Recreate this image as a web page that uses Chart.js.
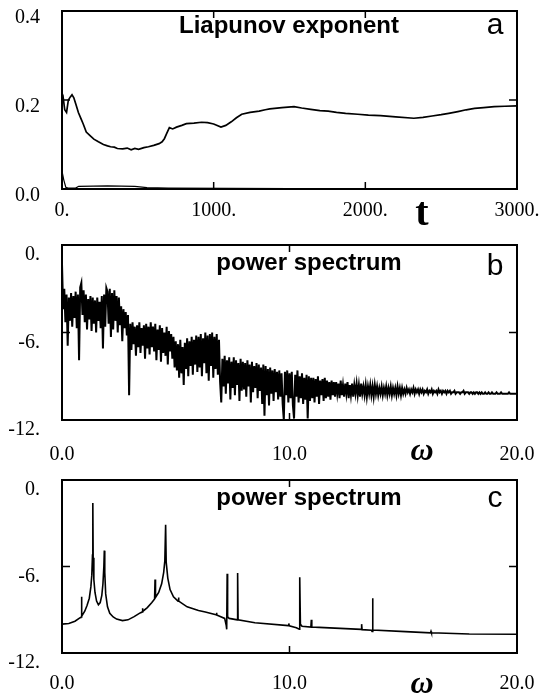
<!DOCTYPE html>
<html>
<head>
<meta charset="utf-8">
<script src="https://cdn.jsdelivr.net/npm/chart.js@4.4.1/dist/chart.umd.min.js"></script>
<style>
  body { margin: 0; background: #fff; }
  canvas { position: absolute; left: 0; }
  #chartA { top: 0; }
  #chartB { top: 232px; }
  #chartC { top: 465px; }
</style>
</head>
<body>
<canvas id="chartA" width="540" height="232"></canvas>
<canvas id="chartB" width="540" height="233"></canvas>
<canvas id="chartC" width="540" height="235"></canvas>
<script>
//datos panel a (exponente de Liapunov)
const tiempoA = [0, 8, 18, 30, 42, 55, 66, 78, 92, 108, 125, 140, 160, 185, 210, 240, 273, 300, 320, 345,
  365, 400, 430, 456, 480, 505, 540, 570, 605, 640, 660, 675, 692, 708, 730, 755, 790, 820, 870, 920,
  960, 1000, 1048, 1080, 1116, 1150, 1185, 1240, 1300, 1340, 1370, 1450, 1530, 1580, 1640, 1700, 1755, 1810, 1870, 1950,
  2020, 2100, 2200, 2320, 2380, 2440, 2500, 2550, 2610, 2665, 2720, 2780, 2850, 2920, 3000];
const liapunovA = [0.195, 0.205, 0.178, 0.172, 0.2, 0.207, 0.212, 0.205, 0.19, 0.172, 0.158, 0.146, 0.128, 0.12, 0.112, 0.106, 0.1, 0.097, 0.095, 0.094,
  0.091, 0.09, 0.092, 0.088, 0.091, 0.089, 0.093, 0.095, 0.098, 0.102, 0.106, 0.113, 0.126, 0.138, 0.135, 0.139, 0.143, 0.147, 0.148, 0.15,
  0.149, 0.146, 0.139, 0.143, 0.151, 0.16, 0.168, 0.172, 0.175, 0.178, 0.18, 0.183, 0.185, 0.182, 0.179, 0.176, 0.175, 0.172, 0.17, 0.168,
  0.166, 0.165, 0.162, 0.159, 0.161, 0.164, 0.167, 0.17, 0.174, 0.178, 0.181, 0.183, 0.185, 0.186, 0.187];
const tiempoA2 = [0, 12, 25, 40, 90, 110, 300, 480, 560, 700, 1500, 3000];
const liapunovA2 = [0.04, 0.02, 0.004, 0.002, 0.002, 0.006, 0.007, 0.006, 0.003, 0.002, 0.001, 0.001];
const ticksXA = [0, 1000, 2000, 3000];
const etiquetasXA = ['0.', '1000.', '2000.', '3000.'];
const ticksYA = [0, 0.2, 0.4];
const etiquetasYA = ['0.0', '0.2', '0.4'];

//datos panel b (espectro, paso 0.05 en omega)
const pasoB = 0.05;
const potenciaB = [
  -1.3, -4.4, -3.0, -5.3, -3.4, -6.9, -3.6, -5.2, -3.3, -5.6, -3.5, -5.0, -3.2, -5.7, -3.4, -7.9, -2.9, -2.6, -4.8, -3.1,
  -5.3, -3.4, -5.8, -3.7, -5.1, -3.5, -5.9, -3.6, -5.4, -3.8, -6.0, -3.6, -5.2, -3.9, -5.7, -3.5, -7.1, -3.4, -5.6, -2.95,
  -3.2, -5.4, -3.0, -6.3, -3.3, -5.8, -3.1, -5.2, -3.5, -6.0, -3.6, -5.5, -4.2, -6.6, -4.4, -5.7, -4.6, -6.2, -4.8, -10.3,
  -5.4, -7.2, -5.3, -6.8, -5.6, -7.6, -5.5, -7.0, -5.3, -7.4, -5.7, -6.9, -5.5, -7.8, -5.4, -7.1, -5.6, -7.5, -5.3, -7.0,
  -5.6, -7.3, -5.4, -7.9, -5.8, -7.2, -5.5, -8.0, -5.7, -7.4, -6.0, -7.6, -5.6, -8.2, -5.9, -7.3, -6.1, -7.8, -6.3, -8.4,
  -6.6, -8.6, -6.8, -9.1, -6.5, -8.8, -7.0, -9.6, -6.7, -8.5, -6.4, -9.0, -6.6, -8.3, -6.3, -8.9, -6.5, -8.2, -6.2, -8.7,
  -6.3, -8.4, -6.1, -9.0, -6.4, -8.1, -6.0, -8.8, -6.2, -9.3, -6.1, -8.3, -6.0, -9.1, -6.3, -8.5, -6.1, -8.9, -6.5, -9.4,
  -10.8, -7.8, -9.7, -7.6, -10.2, -7.9, -9.5, -7.7, -10.6, -8.0, -9.8, -7.7, -10.3, -7.9, -9.6, -8.1, -10.7, -7.8, -10.0, -8.0,
  -9.9, -8.1, -10.4, -7.9, -9.7, -8.2, -10.8, -8.0, -10.1, -8.3, -9.8, -8.1, -10.5, -8.2, -10.0, -8.4, -10.9, -8.2, -11.7, -8.3,
  -10.3, -8.5, -11.0, -8.4, -10.2, -8.6, -10.7, -8.5, -10.1, -8.7, -10.6, -8.6, -10.4, -8.8, -10.9, -12.0, -8.7, -10.3, -8.6, -10.8,
  -8.8, -10.5, -8.7, -11.0, -11.9, -8.9, -10.4, -8.6, -10.8, -9.0, -10.5, -8.8, -10.9, -9.1, -10.6, -8.9, -11.9, -9.0, -10.7, -9.1,
  -10.5, -9.1, -10.8, -9.2, -10.4, -9.0, -10.9, -9.3, -10.3, -9.2, -10.7, -9.1, -10.5, -9.3, -10.4, -9.4, -10.6, -9.3, -10.3, -9.4,
  -10.4, -9.4, -10.2, -9.5, -10.5, -9.3, -10.3, -9.6, -10.4, -9.5, -10.2, -9.4, -10.5, -9.6, -10.3, -9.5, -10.4, -9.6, -10.2, -9.5,
  -10.3, -9.6, -10.4, -9.5, -10.2, -9.7, -10.3, -9.6, -10.4, -9.7, -10.2, -9.6, -10.3, -9.7, -10.4, -9.6, -10.2, -9.7, -10.3, -9.8,
  -10.2, -9.7, -10.3, -9.8, -10.2, -9.7, -10.3, -9.8, -10.2, -9.7, -10.3, -9.8, -10.2, -9.8, -10.3, -9.7, -10.2, -9.8, -10.3, -9.8,
  -10.2, -9.9, -10.2, -9.8, -10.1, -9.9, -10.2, -9.9, -10.1, -9.8, -10.2, -9.9, -10.1, -9.9, -10.2, -9.9, -10.1, -9.9, -10.2, -10.0,
  -10.1, -9.9, -10.2, -10.0, -10.1, -9.9, -10.2, -10.0, -10.1, -10.0, -10.2, -9.9, -10.1, -10.0, -10.2, -10.0, -10.1, -10.0, -10.2, -10.0,
  -10.1, -10.0, -10.2, -10.1, -10.1, -10.0, -10.2, -10.1, -10.1, -10.1, -10.2, -10.1, -10.1, -10.0, -10.2, -10.1, -10.1, -10.1, -10.2, -10.1,
  -10.1, -10.2, -10.1, -10.2, -10.1, -10.1, -10.2, -10.1, -10.2, -10.1, -10.2, -10.2, -10.1, -10.2, -10.2, -10.1, -10.2, -10.2, -10.1, -10.2,
  -10.2, -10.2, -10.1, -10.2, -10.2, -10.2, -10.1, -10.2, -10.2, -10.2, -10.2, -10.2, -10.2, -10.1, -10.2, -10.2, -10.2, -10.2, -10.2, -10.2, -10.2
];

//datos panel c (espectro con picos)
const omegaC = [0, 0.3, 0.57, 0.8, 0.85, 0.86, 0.87, 1.0, 1.1, 1.2, 1.27, 1.31, 1.34, 1.355, 1.37, 1.4, 1.45, 1.52, 1.6, 1.68,
  1.75, 1.8, 1.84, 1.86, 1.88, 1.92, 2.0, 2.1, 2.25, 2.4, 2.66, 2.9, 3.17, 3.4, 3.53, 3.54, 3.55, 3.75, 3.95, 4.07,
  4.09, 4.11, 4.25, 4.38, 4.47, 4.52, 4.555, 4.58, 4.65, 4.75, 4.9, 5.1, 5.12, 5.14, 5.5, 6.0, 6.3, 6.77, 6.79, 6.81,
  7.15, 7.22, 7.24, 7.26, 7.28, 7.35, 7.71, 7.72, 7.74, 8.48, 9.95, 9.97, 9.99, 10.3, 10.43, 10.45, 10.48, 10.55, 10.94, 10.96,
  10.98, 11.3, 13.15, 13.17, 13.19, 13.6, 13.63, 13.65, 13.67, 15.1, 16.2, 16.22, 16.24, 17.9, 20];
const potenciaC = [-10.0, -9.95, -9.8, -9.55, -9.5, -8.1, -9.45, -9.1, -8.7, -8.2, -7.4, -6.6, -5.2, -1.6, -5.4, -6.9, -7.8, -8.4, -8.65, -8.5,
  -8.0, -7.2, -6.0, -4.9, -6.4, -7.9, -8.8, -9.25, -9.5, -9.65, -9.75, -9.7, -9.48, -9.25, -9.15, -8.9, -9.12, -8.85, -8.5, -8.25,
  -6.9, -8.15, -7.8, -7.2, -6.4, -5.6, -3.1, -5.7, -6.8, -7.6, -8.1, -8.4, -8.15, -8.4, -8.8, -9.05, -9.15, -9.35, -9.2, -9.37,
  -9.6, -10.1, -10.36, -6.5, -9.5, -9.6, -9.7, -6.45, -9.7, -9.9, -10.1, -9.95, -10.12, -10.25, -10.35, -6.75, -10.0, -10.15, -10.2, -9.7,
  -10.2, -10.22, -10.36, -10.0, -10.38, -10.42, -10.5, -8.2, -10.4, -10.52, -10.6, -10.5, -10.6, -10.68, -10.7];

//ejes comunes de los espectros
const ticksXEsp = [0, 10, 20];
const etiquetasXEsp = ['0.0', '10.0', '20.0'];
const ticksYEsp = [-12, -6, 0];
const etiquetasYEsp = ['-12.', '-6.', '0.'];

const serif = '"Liberation Serif", "Times New Roman", serif';
const sans = '"Liberation Sans", Arial, sans-serif';

//marco, marcas internas y textos
const marco = {
  id: 'marco',
  afterDatasetsDraw(chart, args, opts) {
    const { ctx, chartArea: { left, right, top, bottom }, scales: { x, y } } = chart;
    ctx.save();
    ctx.strokeStyle = '#000';
    ctx.lineWidth = 2;
    ctx.strokeRect(left, top, right - left, bottom - top);

    ctx.lineWidth = 1.5;
    ctx.beginPath();
    opts.marcasX.forEach(v => {
      const px = x.getPixelForValue(v);
      ctx.moveTo(px, top); ctx.lineTo(px, top + 7);
      ctx.moveTo(px, bottom); ctx.lineTo(px, bottom - 7);
    });
    opts.marcasY.forEach(v => {
      const py = y.getPixelForValue(v);
      ctx.moveTo(left, py); ctx.lineTo(left + 8, py);
      ctx.moveTo(right, py); ctx.lineTo(right - 8, py);
    });
    ctx.stroke();

    ctx.fillStyle = '#000';
    ctx.textAlign = 'center';
    ctx.textBaseline = 'alphabetic';
    ctx.font = 'bold 24px ' + sans;
    ctx.fillText(opts.titulo, opts.tituloX, opts.tituloY);
    ctx.font = '30px ' + sans;
    ctx.fillText(opts.letra, 495, opts.letraY);
    ctx.font = opts.ejeFuente;
    ctx.fillText(opts.eje, 422, opts.ejeY);
    ctx.restore();
  }
};

// rejilla invisible: solo sirve para separar las etiquetas del eje
const rejillaOculta = largo => ({
  display: true, drawOnChartArea: false, drawTicks: true,
  tickLength: largo, tickColor: 'rgba(0,0,0,0)'
});

function crearGrafico(id, datasets, cfg) {
  const ctx = document.getElementById(id).getContext('2d');
  return new Chart(ctx, {
    type: 'line',
    data: { datasets },
    options: {
      responsive: false,
      animation: false,
      parsing: false,
      normalized: true,
      layout: { padding: { top: cfg.arriba, right: 23, left: 0, bottom: 0 } },
      elements: { point: { radius: 0 }, line: { tension: 0 } },
      scales: {
        x: {
          type: 'linear', min: cfg.minX, max: cfg.maxX,
          afterBuildTicks: s => { s.ticks = cfg.ticksX.map(v => ({ value: v })); },
          afterFit: s => { s.height = cfg.altoX; },
          ticks: {
            callback: (v, i) => cfg.etiquetasX[i],
            font: { family: serif, size: 20, lineHeight: 1 },
            color: '#000', padding: 0, maxRotation: 0, autoSkip: false
          },
          grid: rejillaOculta(cfg.padX),
          border: { display: false }
        },
        y: {
          type: 'linear', min: cfg.minY, max: cfg.maxY,
          afterBuildTicks: s => { s.ticks = cfg.ticksY.map(v => ({ value: v })); },
          afterFit: s => { s.width = 62; },
          ticks: {
            callback: (v, i) => cfg.etiquetasY[i],
            font: { family: serif, size: 20, lineHeight: 1 },
            color: '#000', padding: 0, labelOffset: cfg.offY
          },
          grid: rejillaOculta(22),
          border: { display: false }
        }
      },
      plugins: {
        legend: { display: false },
        tooltip: { enabled: false },
        marco: cfg.marco
      }
    },
    plugins: [marco]
  });
}

//panel a
crearGrafico('chartA', [
  { data: tiempoA.map((t, i) => ({ x: t, y: liapunovA[i] })), borderColor: '#000', borderWidth: 1.7 },
  { data: tiempoA2.map((t, i) => ({ x: t, y: liapunovA2[i] })), borderColor: '#000', borderWidth: 1.2 }
], {
  arriba: 11, altoX: 43, padX: 12, offY: 7,
  minX: 0, maxX: 3000, ticksX: ticksXA, etiquetasX: etiquetasXA,
  minY: 0, maxY: 0.4, ticksY: ticksYA, etiquetasY: etiquetasYA,
  marco: {
    marcasX: [1000, 2000], marcasY: [0.2],
    titulo: 'Liapunov exponent', tituloX: 289, tituloY: 33,
    letra: 'a', letraY: 34,
    eje: 't', ejeFuente: 'bold 40px ' + serif, ejeY: 225
  }
});

//panel b
crearGrafico('chartB', [
  { data: potenciaB.map((p, i) => ({ x: i * pasoB, y: p })), borderColor: '#000', borderWidth: 2 }
], {
  arriba: 13, altoX: 45, padX: 25, offY: 10,
  minX: 0, maxX: 20, ticksX: ticksXEsp, etiquetasX: etiquetasXEsp,
  minY: -12, maxY: 0, ticksY: ticksYEsp, etiquetasY: etiquetasYEsp,
  marco: {
    marcasX: [10], marcasY: [-6],
    titulo: 'power spectrum', tituloX: 309, tituloY: 38,
    letra: 'b', letraY: 43,
    eje: 'ω', ejeFuente: 'italic bold 32px ' + serif, ejeY: 228
  }
});

//panel c
crearGrafico('chartC', [
  { data: omegaC.map((w, i) => ({ x: w, y: potenciaC[i] })), borderColor: '#000', borderWidth: 1.6 }
], {
  arriba: 15, altoX: 47, padX: 21, offY: 10,
  minX: 0, maxX: 20, ticksX: ticksXEsp, etiquetasX: etiquetasXEsp,
  minY: -12, maxY: 0, ticksY: ticksYEsp, etiquetasY: etiquetasYEsp,
  marco: {
    marcasX: [10], marcasY: [-6],
    titulo: 'power spectrum', tituloX: 309, tituloY: 40,
    letra: 'c', letraY: 42,
    eje: 'ω', ejeFuente: 'italic bold 32px ' + serif, ejeY: 228
  }
});
</script>
</body>
</html>
